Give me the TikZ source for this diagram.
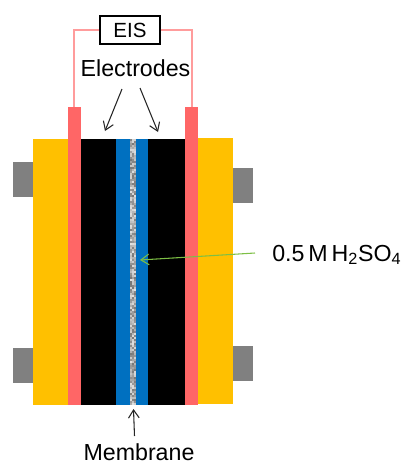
\documentclass[tikz,border=0pt]{standalone}
\usepackage{fontspec}
\setmainfont{Liberation Sans}
\usepackage{xcolor}
\usetikzlibrary{positioning,arrows.meta}
\definecolor{plate}{HTML}{FFC000}
\definecolor{collector}{HTML}{FF6666}
\definecolor{acid}{HTML}{0070C0}
\definecolor{clampgray}{HTML}{808080}
\definecolor{pointer}{HTML}{7DBF45}
\tikzset{
  lbl/.style={font=\fontsize{17.4}{20}\selectfont,inner sep=0pt},
  wire/.style={collector!65,line width=0.9pt},
  pin/.style={-{Straight Barb[length=6pt,width=8pt]},line width=0.8pt,black!85},
}

\begin{document}
\begin{tikzpicture}[x=0.75pt,y=-0.75pt]
\useasboundingbox (0,0) rectangle (403,465);

\coordinate (leadL) at (74,107);
\coordinate (leadR) at (192,107);
\coordinate (elecL) at (105,131);
\coordinate (elecR) at (158,132);
\coordinate (acid) at (140,260);
\coordinate (mem) at (133.5,409);
\coordinate (fromL) at (122,89);
\coordinate (fromR) at (140,88);
\coordinate (fromM) at (134.5,436);
\coordinate (fromA) at (255,253);

% end plates and clamps
\fill[plate] (33,139) rectangle (68,405);
\fill[plate] (198,138) rectangle (233,404);
\fill[clampgray] (13,162) rectangle (33,197);
\fill[clampgray] (13,348) rectangle (33,383);
\fill[clampgray] (233,168) rectangle (253,203);
\fill[clampgray] (233,346) rectangle (253,381);

% stack
\fill[black] (81,139) rectangle (185,405);
\fill[acid] (116,139) rectangle (148,405);
\fill[collector] (68,107) rectangle (81,405);
\fill[collector] (185,107) rectangle (198,405);

% membrane
\pgfmathsetseed{7}
\foreach \y in {139,141,...,403}{
  \foreach \x in {130,132,134}{
    \pgfmathsetmacro{\shade}{12+int(rnd*42)}
    \fill[black!\shade!white] (\x,\y) rectangle (\x+2,\y+2);
  }
}

\node[lbl,font=\fontsize{15.4}{18}\selectfont,draw=black,line width=0.8pt,minimum width=45pt,minimum height=21pt] (eis) at (130,30) {EIS};
\node[lbl] (electrodes) at (135.5,68) {Electrodes};
\node[lbl] (membrane) at (139,452) {Membrane};
\node[lbl,anchor=west] (h2so4) at (272,255) {0.5\,M\,H\textsubscript{2}SO\textsubscript{4}};

\draw[wire] (eis.west) -| (leadL);
\draw[wire] (eis.east) -| (leadR);
\draw[pin] (fromL) -- (elecL);
\draw[pin] (fromR) -- (elecR);
\draw[pin] (fromM) -- (mem);
\draw[pin,pointer] (fromA) -- (acid);

\end{tikzpicture}
\end{document}
